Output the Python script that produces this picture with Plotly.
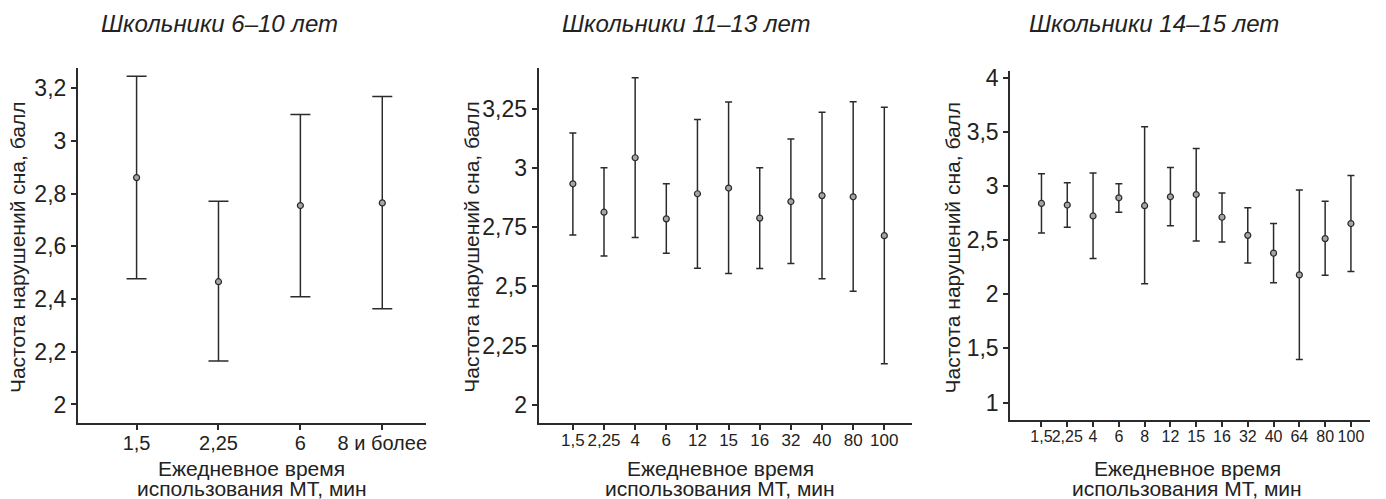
import plotly.graph_objects as go

W, H = 1386, 499

# ---------------- data ----------------
titles = ["Школьники 6–10 лет", "Школьники 11–13 лет", "Школьники 14–15 лет"]
y_title = "Частота нарушений сна, балл"
x_title_1 = "Ежедневное время"
x_title_2 = "использования МТ, мин"

cats1 = ["1,5", "2,25", "6", "8 и более"]
mean1 = [2.861, 2.466, 2.755, 2.765]
upper1 = [3.246, 2.771, 3.100, 3.169]
lower1 = [2.477, 2.165, 2.409, 2.363]

cats2 = ["1,5", "2,25", "4", "6", "12", "15", "16", "32", "40", "80", "100"]
mean2 = [2.933, 2.813, 3.043, 2.785, 2.891, 2.915, 2.788, 2.858, 2.883, 2.878, 2.714]
upper2 = [3.147, 3.001, 3.381, 2.933, 3.204, 3.278, 3.001, 3.122, 3.235, 3.279, 3.256]
lower2 = [2.717, 2.628, 2.706, 2.640, 2.576, 2.554, 2.575, 2.596, 2.532, 2.479, 2.173]

cats3 = ["1,5", "2,25", "4", "6", "8", "12", "15", "16", "32", "40", "64", "80", "100"]
mean3 = [2.839, 2.824, 2.723, 2.891, 2.818, 2.900, 2.921, 2.711, 2.544, 2.380, 2.179, 2.514, 2.653]
upper3 = [3.112, 3.030, 3.119, 3.021, 3.547, 3.170, 3.347, 2.936, 2.799, 2.653, 2.964, 2.860, 3.097]
lower3 = [2.565, 2.620, 2.331, 2.757, 2.097, 2.632, 2.492, 2.483, 2.289, 2.106, 1.398, 2.176, 2.210]

yticks1 = [2, 2.2, 2.4, 2.6, 2.8, 3, 3.2]
yticktext1 = ["2", "2,2", "2,4", "2,6", "2,8", "3", "3,2"]
yticks2 = [2, 2.25, 2.5, 2.75, 3, 3.25]
yticktext2 = ["2", "2,25", "2,5", "2,75", "3", "3,25"]
yticks3 = [1, 1.5, 2, 2.5, 3, 3.5, 4]
yticktext3 = ["1", "1,5", "2", "2,5", "3", "3,5", "4"]

# ---------------- layout geometry (pixels) ----------------
panels = [
    dict(cats=cats1, mean=mean1, up=upper1, lo=lower1, yt=yticks1, ytt=yticktext1,
         px=(78, 426), py=(63, 422), yr=(1.93, 3.276), xr=(-0.716, 3.53), cap=10,
         xfont=20, title_x=220, ytitle_x=17, xtitle_x=252),
    dict(cats=cats2, mean=mean2, up=upper2, lo=lower2, yt=yticks2, ytt=yticktext2,
         px=(539, 913), py=(63, 422), yr=(1.923, 3.421), xr=(-1.1, 10.9), cap=3.5,
         xfont=17, title_x=687, ytitle_x=471, xtitle_x=721),
    dict(cats=cats3, mean=mean3, up=upper3, lo=lower3, yt=yticks3, ytt=yticktext3,
         px=(1011, 1371), py=(66, 419), yr=(0.839, 4.06), xr=(-1.21, 12.74), cap=3.5,
         xfont=16, title_x=1155, ytitle_x=953, xtitle_x=1188),
]

LINE = "#2b2b2b"
FONT = "Liberation Sans, Arial, sans-serif"

fig = go.Figure()
annotations = []
for i, p in enumerate(panels, start=1):
    xs = list(range(len(p["cats"])))
    err_plus = [u - m for u, m in zip(p["up"], p["mean"])]
    err_minus = [m - l for m, l in zip(p["mean"], p["lo"])]
    fig.add_trace(go.Scatter(
        x=xs, y=p["mean"], mode="markers",
        xaxis=f"x{i}", yaxis=f"y{i}",
        marker=dict(size=6, color="#a6a6a6", line=dict(color=LINE, width=1.2)),
        error_y=dict(type="data", symmetric=False, array=err_plus, arrayminus=err_minus,
                     color=LINE, thickness=1.5, width=p["cap"]),
        showlegend=False, hoverinfo="skip",
    ))
    xd = [p["px"][0] / W, p["px"][1] / W]
    yd = [(H - p["py"][1]) / H, (H - p["py"][0]) / H]
    suffix = "" if i == 1 else str(i)
    fig.update_layout(**{
        f"xaxis{suffix}": dict(
            domain=xd, range=list(p["xr"]), anchor=f"y{i}",
            tickvals=xs, ticktext=p["cats"], ticks="outside", ticklen=5, tickwidth=1.5,
            tickcolor=LINE, showline=True, linecolor=LINE, linewidth=2,
            showgrid=False, zeroline=False, tickangle=0, ticklabelstandoff=-4,
            tickfont=dict(size=p["xfont"], family=FONT, color="#222"),
        ),
        f"yaxis{suffix}": dict(
            domain=yd, range=list(p["yr"]), anchor=f"x{i}",
            tickvals=p["yt"], ticktext=p["ytt"], ticks="outside", ticklen=5, tickwidth=1.5,
            tickcolor=LINE, showline=True, linecolor=LINE, linewidth=2,
            showgrid=False, zeroline=False,
            tickfont=dict(size=23, family=FONT, color="#222"),
        ),
    })
    annotations.append(dict(
        text=titles[i - 1], x=p["title_x"] / W, y=(H - 18) / H, xref="paper", yref="paper",
        xanchor="center", yanchor="middle", showarrow=False,
        font=dict(size=24, family=FONT, color="#222", style="italic"),
    ))
    annotations.append(dict(
        text=y_title, x=p["ytitle_x"] / W, y=(H - 244) / H, xref="paper", yref="paper",
        xanchor="center", yanchor="middle", textangle=-90, showarrow=False,
        font=dict(size=21, family=FONT, color="#222"),
    ))
    annotations.append(dict(
        text=x_title_1, x=p["xtitle_x"] / W, y=(H - 468) / H, xref="paper", yref="paper",
        xanchor="center", yanchor="middle", showarrow=False,
        font=dict(size=21, family=FONT, color="#222"),
    ))
    annotations.append(dict(
        text=x_title_2, x=p["xtitle_x"] / W, y=(H - 488) / H, xref="paper", yref="paper",
        xanchor="center", yanchor="middle", showarrow=False,
        font=dict(size=21, family=FONT, color="#222"),
    ))

fig.update_layout(
    width=W, height=H, margin=dict(l=0, r=0, t=0, b=0),
    paper_bgcolor="white", plot_bgcolor="white",
    annotations=annotations, font=dict(family=FONT, color="#222"),
)

fig.write_html(
    "out.html",
    config={"displayModeBar": False},
    post_script="document.body.style.margin='0';document.body.style.overflow='hidden';",
)
